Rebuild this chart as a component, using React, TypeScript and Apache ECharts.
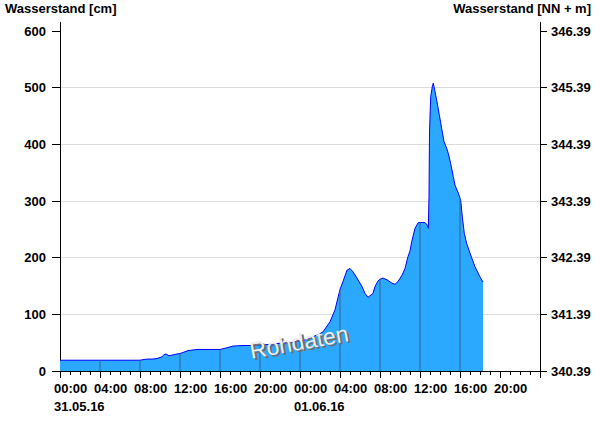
import React, { useEffect, useRef } from "react";
import * as echarts from "echarts";

// Water level [cm], hours since 31.05.16 00:00
const hours: number[] = [
  0, 4, 8, 8.3, 8.7, 9.2, 9.7, 10.2, 10.4, 10.6, 10.9, 11.2, 11.7, 12, 12.2, 12.8, 13.7, 16, 16.7, 17.3,
  18.3, 19, 20, 21, 22, 23, 24, 25, 25.5, 26, 26.3, 27, 27.5, 28, 28.3, 28.7, 29, 29.3, 29.7, 30.2,
  30.5, 30.8, 31.3, 31.5, 31.8, 32, 32.3, 32.7, 33.2, 33.5, 33.8, 34.2, 34.5, 34.8, 35.0, 35.17, 35.5, 35.83, 36, 36.5,
  36.7, 36.83, 36.9, 36.95, 37.07, 37.23, 37.33, 37.5, 37.67, 37.93, 38.17, 38.4, 38.67, 38.83, 39.07, 39.33, 39.5, 39.83, 40, 40.07,
  40.23, 40.43, 40.67, 41, 41.5, 42, 42.3,
];
const levels: number[] = [
  19, 19, 19, 20, 21, 21, 22, 25, 29, 30, 27, 28, 30, 31, 32, 36, 38, 38, 41, 44,
  45, 45, 46, 47, 49, 50, 53, 57, 62, 66, 69, 87, 108, 144, 158, 178, 181, 175, 164, 149,
  137, 130, 137, 149, 159, 162, 164, 161, 155, 153, 158, 169, 181, 202, 212, 228, 252, 262, 262, 262,
  258, 252, 308, 422, 484, 502, 508, 493, 478, 452, 428, 405, 393, 384, 366, 343, 328, 314, 305, 302,
  272, 243, 225, 208, 184, 166, 157,
];

const timeTicks: number[] = [0, 4, 8, 12, 16, 20, 24, 28, 32, 36, 40, 44];
const timeLabels: string[] = ["00:00", "04:00", "08:00", "12:00", "16:00", "20:00", "00:00", "04:00", "08:00", "12:00", "16:00", "20:00"];
const dateTicks: number[] = [0, 24];
const dateLabels: string[] = ["31.05.16", "01.06.16"];
const leftTicks: number[] = [0, 100, 200, 300, 400, 500, 600];
const rightTickLabels: string[] = ["340.39", "341.39", "342.39", "343.39", "344.39", "345.39", "346.39"];
const dropLineHours: number[] = [4, 8, 12, 16, 20, 24, 28, 32, 36, 40];

const FONT = "'Liberation Sans', Arial, sans-serif";

export default function App() {
  const ref = useRef<HTMLDivElement>(null);
  useEffect(() => {
    if (!ref.current) return;
    const chart = echarts.init(ref.current, undefined, { renderer: "svg" });
    const seriesData = hours.map((h, i) => [h, levels[i]]);
    const dropData = dropLineHours
      .map((h) => {
        const i = hours.indexOf(h);
        return i >= 0 ? [h, levels[i]] : null;
      })
      .filter((d) => d !== null);
    const labelStyle = { color: "#000", fontSize: 13, fontWeight: "bold" as const, fontFamily: FONT };
    chart.setOption({
      animation: false,
      backgroundColor: "#fff",
      title: [
        { text: "Wasserstand [cm]", left: 5, top: 2, padding: 0, textStyle: { ...labelStyle } },
        { text: "Wasserstand [NN + m]", right: 9, top: 2, padding: 0, textStyle: { ...labelStyle } },
      ],
      grid: { left: 60, right: 60, top: 22.5, bottom: 55 },
      xAxis: [
        {
          type: "value",
          min: 0,
          max: 48,
          interval: 4,
          position: "bottom",
          axisLine: { show: true, onZero: false, lineStyle: { color: "#000", width: 1 } },
          axisTick: { show: true, length: 7, lineStyle: { color: "#000" } },
          minorTick: { show: true, splitNumber: 4, length: 4, lineStyle: { color: "#000" } },
          splitLine: { show: false },
          axisLabel: {
            ...labelStyle,
            align: "left",
            margin: 11,
            padding: [0, 0, 0, -6],
            customValues: timeTicks,
            hideOverlap: false,
            formatter: (v: number) => timeLabels[timeTicks.indexOf(v)] ?? "",
          },
        },
        {
          type: "value",
          min: 0,
          max: 48,
          interval: 4,
          position: "bottom",
          offset: 18,
          axisLine: { show: false, onZero: false },
          axisTick: { show: false },
          splitLine: { show: false },
          axisLabel: {
            ...labelStyle,
            align: "left",
            margin: 11,
            padding: [0, 0, 0, -6],
            customValues: dateTicks,
            hideOverlap: false,
            formatter: (v: number) => dateLabels[dateTicks.indexOf(v)] ?? "",
          },
        },
      ],
      yAxis: [
        {
          type: "value",
          min: 0,
          max: 615,
          interval: 100,
          position: "left",
          axisLine: { show: true, onZero: false, lineStyle: { color: "#000" } },
          axisTick: { show: true, length: 8, customValues: leftTicks, lineStyle: { color: "#000" } },
          axisLabel: { ...labelStyle, margin: 14, customValues: leftTicks, formatter: (v: number) => String(v) },
          splitLine: { show: true, showMaxLine: false, lineStyle: { color: "#dcdcdc", width: 1 } },
        },
        {
          type: "value",
          min: 0,
          max: 615,
          interval: 100,
          position: "right",
          axisLine: { show: true, onZero: false, lineStyle: { color: "#000" } },
          axisTick: { show: true, length: 7, customValues: leftTicks, lineStyle: { color: "#000" } },
          axisLabel: {
            ...labelStyle,
            margin: 11,
            customValues: leftTicks,
            formatter: (v: number) => rightTickLabels[leftTicks.indexOf(v)] ?? "",
          },
          splitLine: { show: false },
        },
      ],
      series: [
        {
          type: "line",
          data: seriesData,
          showSymbol: false,
          symbol: "none",
          z: 2,
          lineStyle: { color: "#0000ff", width: 1 },
          areaStyle: { color: "#2ba8ff", opacity: 1 },
        },
        {
          type: "bar",
          data: dropData,
          barWidth: 1,
          z: 3,
          itemStyle: { color: "#33678a" },
          silent: true,
        },
      ],
      graphic: [
        {
          type: "text",
          x: 299,
          y: 342,
          rotation: 0.18,
          z: 10,
          style: {
            text: "Rohdaten",
            x: 2,
            y: 2,
            fill: "#6e6e6e",
            font: "23px " + FONT,
            align: "center",
            verticalAlign: "middle",
          },
        },
        {
          type: "text",
          x: 299,
          y: 342,
          rotation: 0.18,
          z: 11,
          style: {
            text: "Rohdaten",
            fill: "#ededed",
            font: "23px " + FONT,
            align: "center",
            verticalAlign: "middle",
          },
        },
      ],
    });
    return () => chart.dispose();
  }, []);
  return <div ref={ref} style={{ position: "absolute", left: 0, top: 0, width: 600, height: 426 }} />;
}
